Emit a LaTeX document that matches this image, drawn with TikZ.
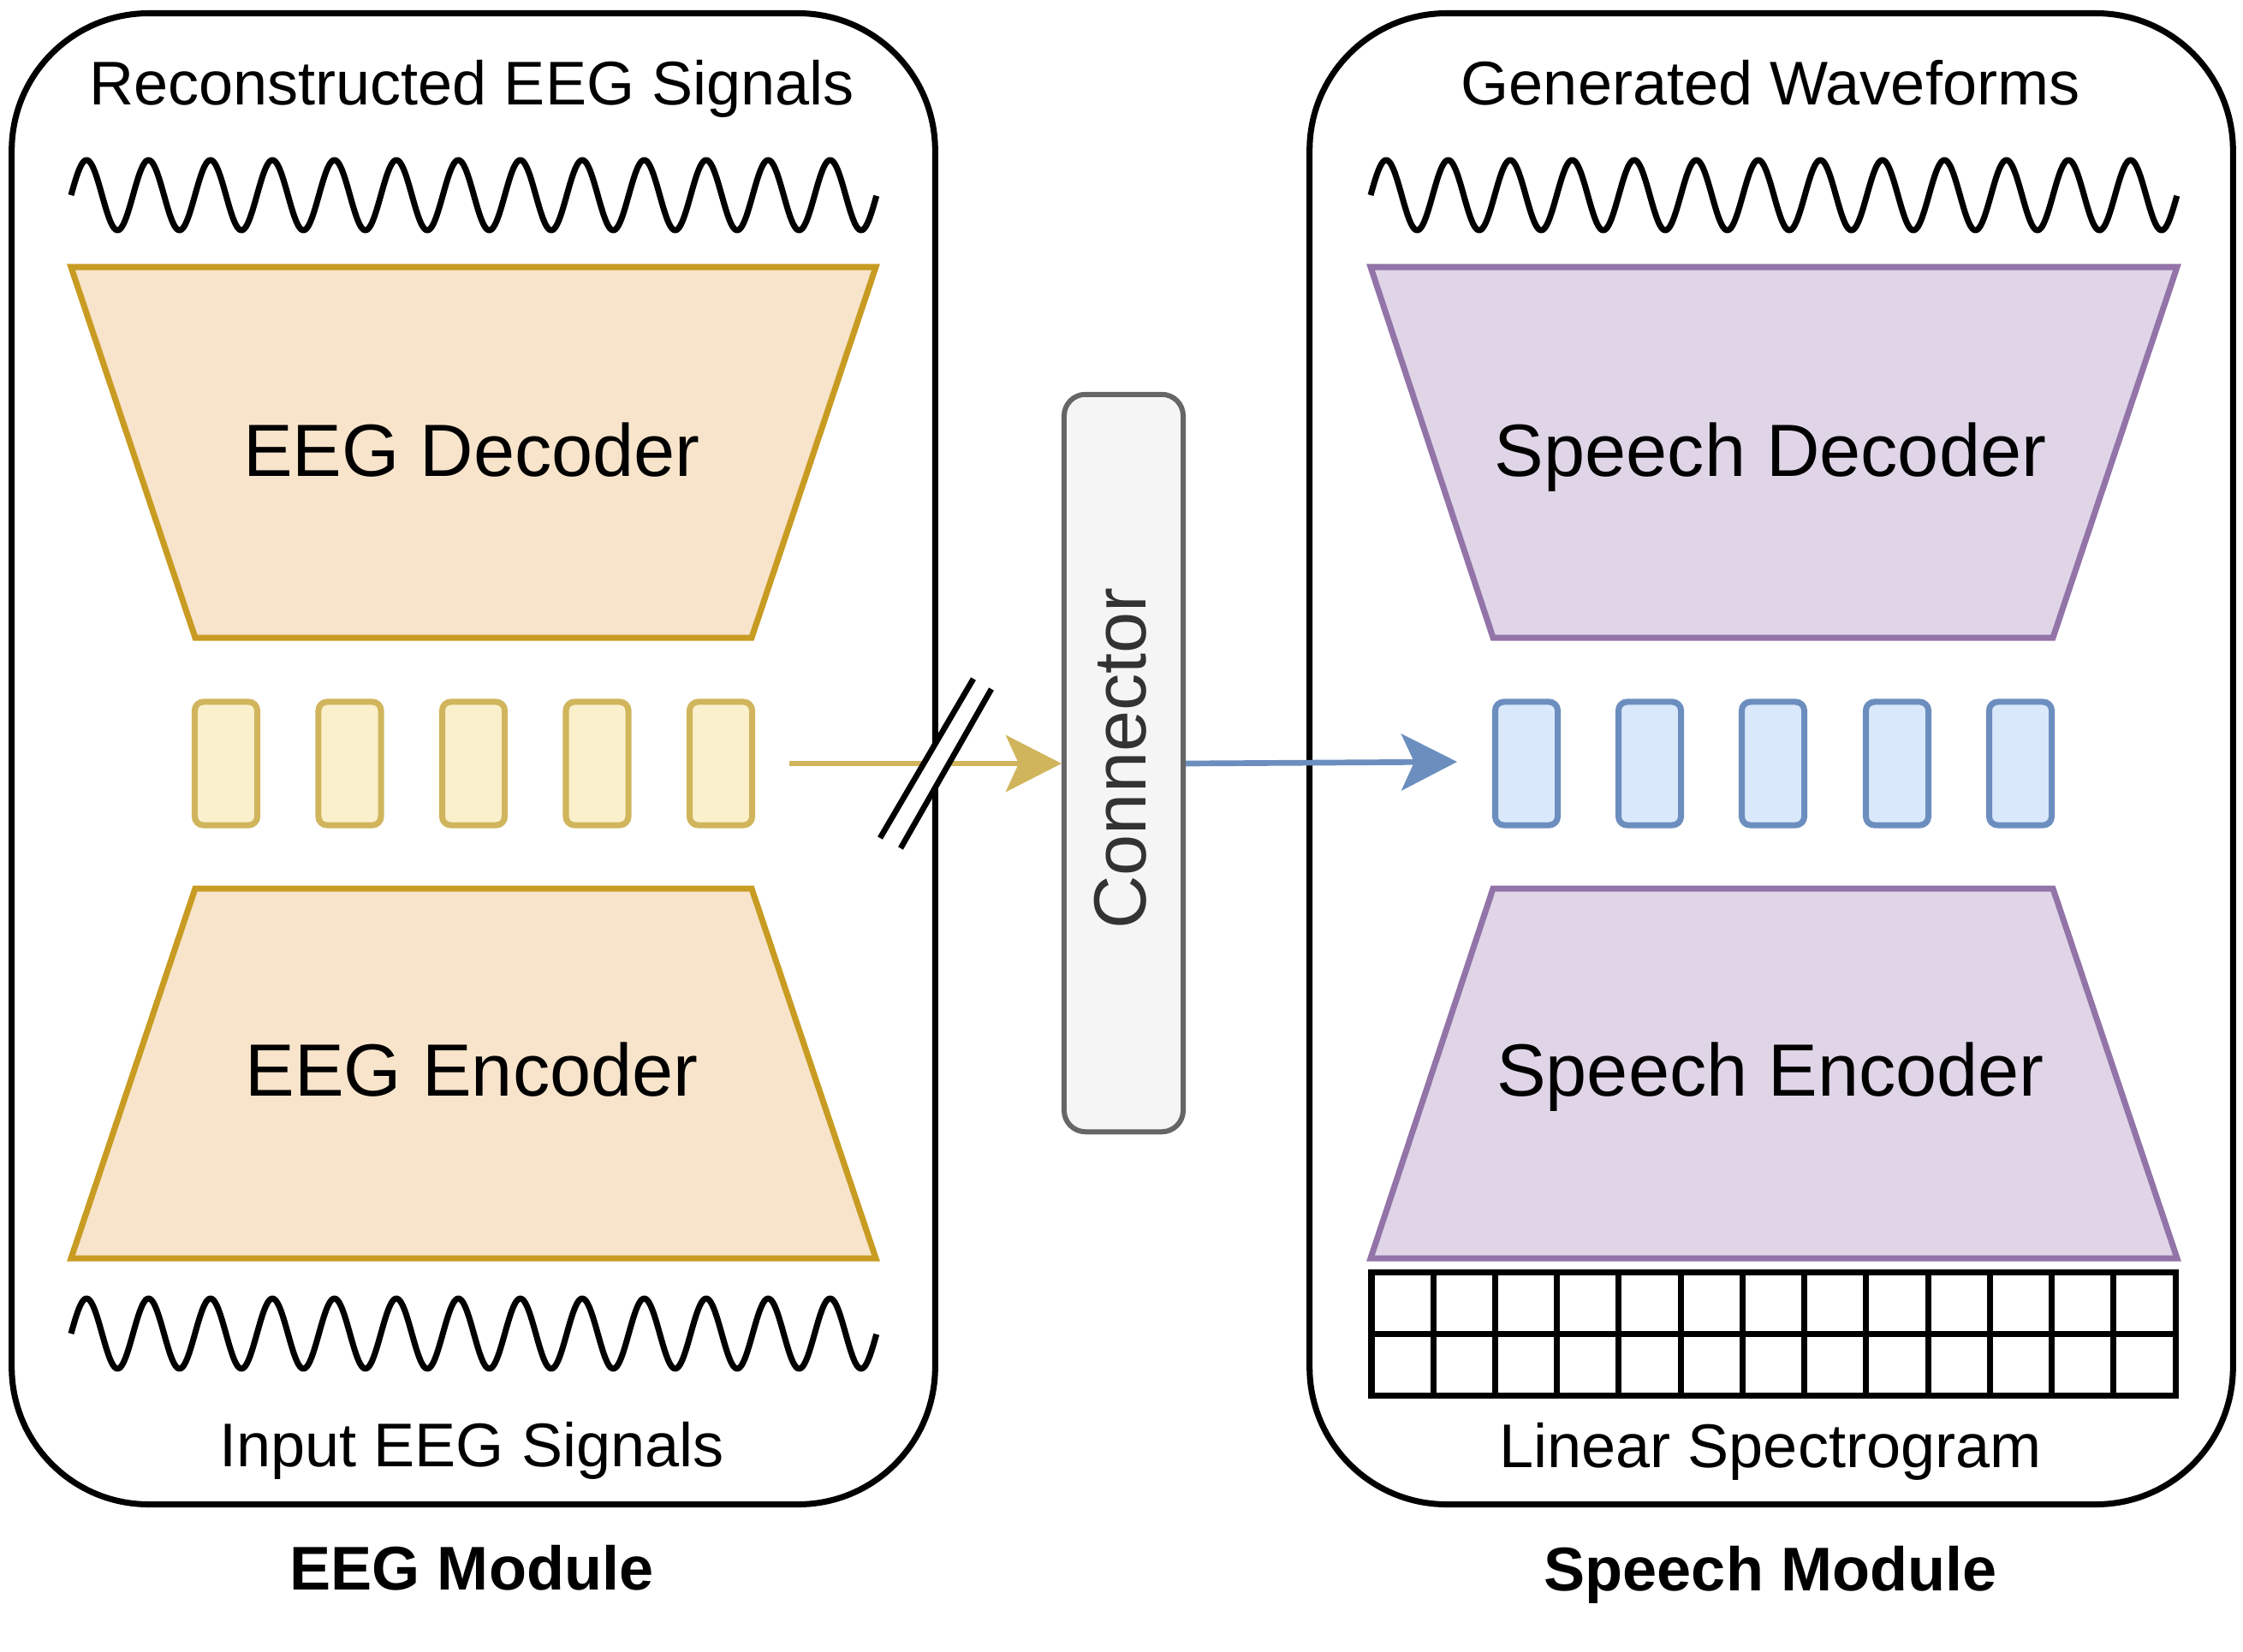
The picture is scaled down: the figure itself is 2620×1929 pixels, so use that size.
\documentclass[tikz,border=0pt]{standalone}
\usepackage{fontspec}
\setmainfont{Liberation Sans}
\usetikzlibrary{arrows.meta}
\definecolor{eegfill}{HTML}{F8E4CB}
\definecolor{eegdraw}{HTML}{C89B22}
\definecolor{tokyfill}{HTML}{FBF0CC}
\definecolor{tokydraw}{HTML}{D0B55C}
\definecolor{spfill}{HTML}{DFD5E7}
\definecolor{spdraw}{HTML}{9274A8}
\definecolor{tokbfill}{HTML}{DAE8FC}
\definecolor{tokbdraw}{HTML}{6C8EBF}
\definecolor{connfill}{HTML}{F5F5F5}
\definecolor{conndraw}{HTML}{666666}
\definecolor{conntext}{HTML}{333333}
\begin{document}
\begin{tikzpicture}[x=0.01cm,y=-0.01cm,
  modbox/.style={draw=black, line width=2pt, rounded corners=1.6cm,
    minimum width=10.78cm, minimum height=17.41cm, inner sep=0pt},
  eegtrap/.style={draw=eegdraw, fill=eegfill, line width=2pt},
  sptrap/.style={draw=spdraw, fill=spfill, line width=2pt},
  toky/.style={draw=tokydraw, fill=tokyfill, line width=2pt, rounded corners=0.1cm,
    minimum width=0.73cm, minimum height=1.44cm, inner sep=0pt},
  tokb/.style={draw=tokbdraw, fill=tokbfill, line width=2pt, rounded corners=0.1cm,
    minimum width=0.73cm, minimum height=1.44cm, inner sep=0pt},
  connbox/.style={draw=conndraw, fill=connfill, line width=1.7pt, rounded corners=0.25cm,
    minimum width=1.39cm, minimum height=8.61cm, inner sep=0pt},
  wave/.style={draw=black, line width=2pt, line join=round},
  small/.style={inner sep=0pt, anchor=base, font=\fontsize{20.5}{24}\selectfont},
  big/.style={inner sep=0pt, anchor=base, font=\fontsize{24.6}{29}\selectfont},
  modlabel/.style={inner sep=0pt, anchor=base, font=\fontsize{20.5}{24}\selectfont\bfseries},
  gridline/.style={draw=black, line width=2pt},
  arrowY/.style={draw=tokydraw, line width=1.9pt,
    -{Stealth[length=0.65cm, width=0.66cm, inset=0.15cm]}},
  arrowB/.style={draw=tokbdraw, line width=1.9pt,
    -{Stealth[length=0.65cm, width=0.66cm, inset=0.15cm]}},
  slashline/.style={draw=black, line width=1.9pt},
]
\useasboundingbox (0,0) rectangle (2620,1929);

% module boxes
\node[modbox] (eegmod) at (553,886.5) {};
\node[modbox] (spmod) at (2069,886.5) {};

% EEG module
\node[small] (recl) at (551,122) {Reconstructed EEG Signals};
\draw[wave] plot[domain=0:13, samples=600, variable=\t] ({83+72.38*\t},{228-41*sin(360*\t)});
\draw[eegtrap] (83,312) -- (1023,312) -- (878,745) -- (228,745) -- cycle;
\node[big] (eegdec) at (551,556) {EEG Decoder};
\foreach \i/\xx in {1/264,2/408.5,3/553,4/697.5,5/842}{
  \node[toky] (ty\i) at (\xx,892) {};
}
\draw[eegtrap] (228,1038) -- (878,1038) -- (1023,1470) -- (83,1470) -- cycle;
\node[big] (eegenc) at (551,1280) {EEG Encoder};
\draw[wave] plot[domain=0:13, samples=600, variable=\t] ({83+72.38*\t},{1558-41*sin(360*\t)});
\node[small] (inl) at (551,1713) {Input EEG Signals};
\node[modlabel] (eegml) at (551,1857) {EEG Module};

% Speech module
\node[small] (genl) at (2068,122) {Generated Waveforms};
\draw[wave] plot[domain=0:13, samples=600, variable=\t] ({1601+72.46*\t},{228-41*sin(360*\t)});
\draw[sptrap] (1601,312) -- (2543,312) -- (2398,745) -- (1744,745) -- cycle;
\node[big] (spdec) at (2068,556) {Speech Decoder};
\foreach \i/\xx in {1/1783,2/1927,3/2071,4/2216,5/2360}{
  \node[tokb] (tb\i) at (\xx,892) {};
}
\draw[sptrap] (1744,1038) -- (2398,1038) -- (2543,1470) -- (1601,1470) -- cycle;
\node[big] (spenc) at (2068,1280) {Speech Encoder};
% spectrogram grid
\draw[gridline] (1602,1486) rectangle (2541,1630);
\draw[gridline] (1602,1558) -- (2541,1558);
\foreach \i in {1,...,12}{
  \draw[gridline] ({1602+\i*72.23},1486) -- ({1602+\i*72.23},1630);
}
\node[small] (linl) at (2068,1714) {Linear Spectrogram};
\node[modlabel] (spml) at (2068,1858) {Speech Module};

% connector
\node[connbox] (conn) at (1312.5,891.5) {};
\node[big, anchor=center, rotate=90, text=conntext] (connl) at (1309,886) {Connector};

% arrows
\coordinate (ystart) at (922,892);
\coordinate (bend) at (1702,890);
\draw[arrowY] (ystart) -- (conn.west |- ystart);
\draw[arrowB] (conn.east |- ystart) -- (bend);

% slash marks
\fill[white] (1028,979) -- (1137,793) -- (1158,805) -- (1052,991) -- cycle;
\draw[slashline] (1028,979) -- (1137,793);
\draw[slashline] (1052,991) -- (1158,805);
\end{tikzpicture}
\end{document}
